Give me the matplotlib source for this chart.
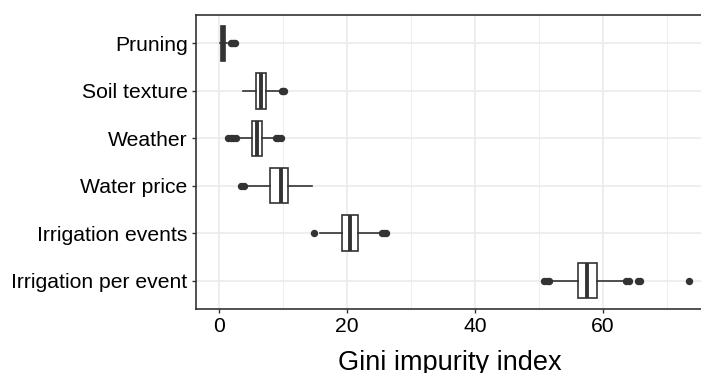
import matplotlib
matplotlib.use("Agg")
import matplotlib.pyplot as plt

# Variables, bottom to top as drawn
variables = ["Irrigation per event", "Irrigation events", "Water price",
             "Weather", "Soil texture", "Pruning"]

# Box statistics (Gini impurity index)
q1 = [56.1, 19.2, 7.9, 5.1, 5.8, 0.35]
medians = [57.5, 20.4, 9.7, 5.9, 6.5, 0.6]
q3 = [59.0, 21.7, 10.7, 6.7, 7.3, 0.95]
whisk_lo = [52.2, 15.7, 4.4, 3.1, 3.7, 0.2]
whisk_hi = [63.1, 25.1, 14.5, 8.4, 9.3, 1.3]
outliers = [
    [50.8, 51.2, 51.5, 63.6, 64.0, 65.4, 65.8, 73.4],
    [14.8, 25.5, 25.8, 26.1],
    [3.4, 3.9],
    [1.4, 1.8, 2.2, 2.6, 8.9, 9.2, 9.6],
    [9.8, 10.0, 10.2],
    [1.9, 2.1, 2.3, 2.5],
]

plt.rcParams["font.family"] = ["Liberation Sans", "DejaVu Sans"]

stats = []
for i, name in enumerate(variables):
    stats.append({
        "label": name,
        "q1": q1[i], "med": medians[i], "q3": q3[i],
        "whislo": whisk_lo[i], "whishi": whisk_hi[i],
        "fliers": outliers[i],
    })

dark = "#333333"
fig = plt.figure(figsize=(7.01, 3.73), dpi=100)
ax = fig.add_axes([196 / 701, 64 / 373, 507 / 701, 294 / 373])

ax.bxp(stats, positions=range(1, 7), vert=False, widths=0.75,
       patch_artist=True, showcaps=False,
       boxprops=dict(facecolor="white", edgecolor=dark, linewidth=1.2),
       medianprops=dict(color=dark, linewidth=2.8),
       whiskerprops=dict(color=dark, linewidth=1.2),
       flierprops=dict(marker="o", markerfacecolor=dark, markeredgecolor=dark,
                       markersize=4.3),
       zorder=3)

ax.set_xlim(-3.6, 75.6)
ax.set_ylim(0.4, 6.6)
ax.set_xticks([0, 20, 40, 60])
ax.set_xticks([10, 30, 50, 70], minor=True)
ax.set_yticks(range(1, 7))
ax.set_yticklabels(variables)

ax.grid(True, which="major", color="#EBEBEB", linewidth=1.2, zorder=0)
ax.grid(True, which="minor", axis="x", color="#EBEBEB", linewidth=0.6, zorder=0)
ax.set_axisbelow(True)

for side in ax.spines.values():
    side.set_color(dark)
    side.set_linewidth(1.2)

ax.tick_params(axis="both", which="major", length=3, width=1, color=dark,
               labelsize=15.2, labelcolor="black", pad=3)
ax.tick_params(axis="x", which="minor", length=0)
ax.set_xlabel("Gini impurity index", fontsize=19.5, labelpad=10)

fig.savefig("out.png", dpi=100)
